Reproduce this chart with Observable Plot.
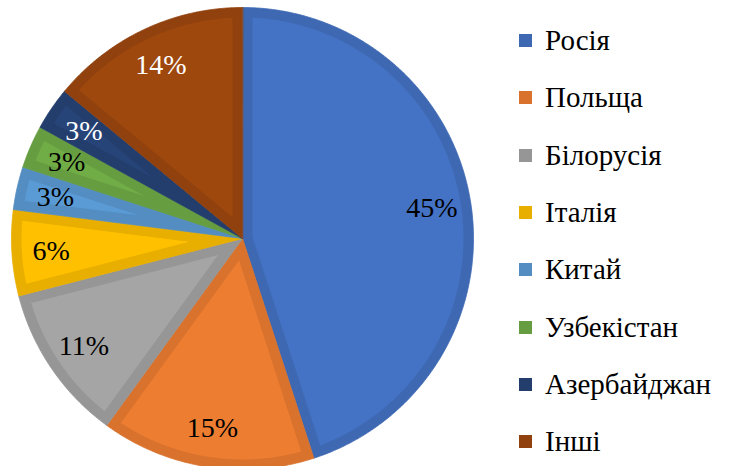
<!DOCTYPE html>
<html><head><meta charset="utf-8">
<script src="https://cdn.jsdelivr.net/npm/d3@7"></script>
<script src="https://cdn.jsdelivr.net/npm/@observablehq/plot@0.6"></script>
<style>
html,body{margin:0;padding:0;background:#fff;overflow:hidden}
#wrap{position:relative;width:730px;height:466px}
#legend{position:absolute;left:519px;top:12px;font-family:"Times New Roman","Liberation Serif","DejaVu Serif",serif;font-size:29px;color:#000}
.item{display:flex;align-items:center;height:57.3px;white-space:nowrap}
.sw{width:13px;height:13px;margin-right:13px;flex:none}
svg text{font-family:"Times New Roman","Liberation Serif","DejaVu Serif",serif}
</style></head><body><div id="wrap"><div id="chart"></div><div id="legend"></div></div>
<script>
const countries = ["Росія","Польща","Білорусія","Італія","Китай","Узбекістан","Азербайджан","Інші"];
const shares = [45, 15, 11, 6, 3, 3, 3, 14];
const fillColors = ["#4472C4","#ED7D31","#A5A5A5","#FFC000","#5B9BD5","#70AD47","#264478","#9E480E"];
const edgeColors = ["#3E68B2","#D8722D","#969696","#E8AF00","#538DC2","#669D41","#233E6D","#90410D"];
const labelColors = ["#000","#000","#000","#000","#000","#000","#fff","#fff"];

const rows = countries.map((c, i) => ({country: c, share: shares[i], fill: fillColors[i], edge: edgeColors[i], label: labelColors[i]}));

const R = 231, cx = 242, cy = 238, border = 10;
const dd = border / R;
const arcs = d3.pie().sort(null).value(r => r.share).startAngle(0).endAngle(2 * Math.PI)(rows);

const outer = [], inner = [], labels = [];
const step = Math.PI / 360;
for (const a of arcs) {
  const name = a.data.country;
  const a0 = a.startAngle, a1 = a.endAngle, th = a1 - a0, mid = (a0 + a1) / 2;
  outer.push({name, x: 0, y: 0, color: a.data.edge});
  const n = Math.max(2, Math.ceil(th / step));
  for (let i = 0; i <= n; i++) {
    const t = a0 + th * i / n;
    outer.push({name, x: Math.sin(t), y: Math.cos(t), color: a.data.edge});
  }
  const rv = dd / Math.sin(th / 2);
  inner.push({name, x: rv * Math.sin(mid), y: rv * Math.cos(mid), color: a.data.fill});
  const del = Math.asin(dd / (1 - dd));
  const b0 = a0 + del, b1 = a1 - del;
  const m = Math.max(2, Math.ceil((b1 - b0) / step));
  for (let i = 0; i <= m; i++) {
    const t = b0 + (b1 - b0) * i / m;
    inner.push({name, x: (1 - dd) * Math.sin(t), y: (1 - dd) * Math.cos(t), color: a.data.fill});
  }
  const lr = 0.83;
  labels.push({x: lr * Math.sin(mid), y: lr * Math.cos(mid), text: `${a.data.share}%`, color: a.data.label});
}

const chart = Plot.plot({
  width: 730, height: 466, margin: 0,
  x: {domain: [-1, 1], range: [cx - R, cx + R], axis: null},
  y: {domain: [-1, 1], range: [cy + R, cy - R], axis: null},
  style: {fontFamily: '"Times New Roman","Liberation Serif","DejaVu Serif",serif', background: "#fff", overflow: "hidden"},
  marks: [
    Plot.line(outer, {x: "x", y: "y", z: "name", fill: "color", stroke: "color", strokeWidth: 0.8, curve: "linear-closed"}),
    Plot.line(inner, {x: "x", y: "y", z: "name", fill: "color", stroke: "none", curve: "linear-closed"}),
    Plot.text(labels, {x: "x", y: "y", text: "text", fill: "color", fontSize: 28})
  ]
});
document.getElementById("chart").appendChild(chart);

const legend = document.getElementById("legend");
rows.forEach(r => {
  const item = document.createElement("div");
  item.className = "item";
  const sw = document.createElement("span");
  sw.className = "sw";
  sw.style.background = r.edge;
  const tx = document.createElement("span");
  tx.textContent = r.country;
  item.appendChild(sw); item.appendChild(tx);
  legend.appendChild(item);
});
</script></body></html>
